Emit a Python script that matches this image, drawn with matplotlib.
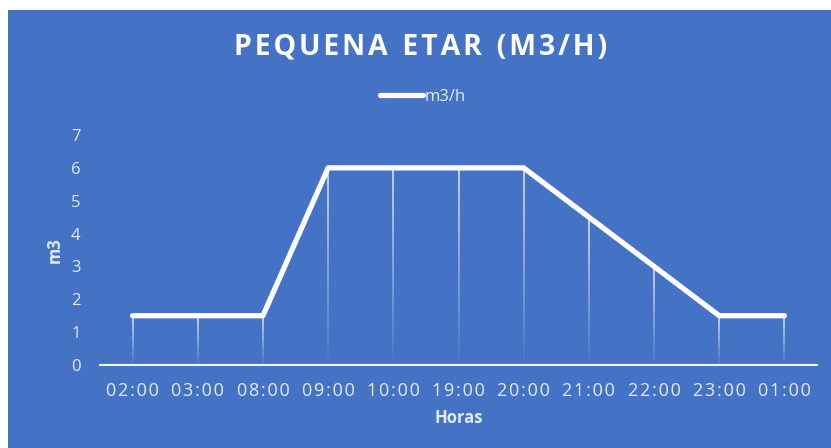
import numpy as np
import matplotlib.pyplot as plt
from matplotlib.patches import Rectangle
from matplotlib.collections import LineCollection

# --- data ---
horas = ['02:00', '03:00', '08:00', '09:00', '10:00', '19:00',
         '20:00', '21:00', '22:00', '23:00', '01:00']
caudal = [1.5, 1.5, 1.5, 6, 6, 6, 6, 4.5, 3, 1.5, 1.5]
titulo = 'PEQUENA ETAR (M3/H)'

BLUE = '#4472C4'
TXT = '#E4EAF6'


def spaced(s, gap='\u200a', wgap='   '):
    # imitate the wide letter spacing of the original
    return wgap.join(gap.join(w) for w in s.split(' '))


fig = plt.figure(figsize=(8.31, 4.48), dpi=100)
fig.patch.set_facecolor('white')
# blue chart area (small white margin left/top like the screenshot)
fig.patches.append(Rectangle((8 / 831, 0), 1, 438 / 448, transform=fig.transFigure,
                             facecolor=BLUE, edgecolor='none', zorder=-10))

ax = fig.add_axes([100 / 831, 83 / 448, 717 / 831, 230 / 448])
ax.set_facecolor('none')

x = np.arange(len(horas))

# drop lines with fading gradient
segs, cols = [], []
n = 40
for xi, yi in zip(x, caudal):
    ys = np.linspace(yi, 0, n + 1)
    for k in range(n):
        segs.append([(xi, ys[k]), (xi, ys[k + 1])])
        cols.append((1, 1, 1, 0.85 * (1 - k / n) + 0.02))
ax.add_collection(LineCollection(segs, colors=cols, linewidths=1.1, zorder=2))

ax.plot(x, caudal, color='white', lw=3.8, solid_capstyle='round',
        solid_joinstyle='round', label='m3/h', zorder=3)

ax.set_xlim(-0.5, len(horas) - 0.5)
ax.set_ylim(0, 7)
ax.set_yticks(range(0, 8))
ax.set_xticks(x)
ax.set_xticklabels([spaced(h) for h in horas])

for s in ['top', 'right', 'left']:
    ax.spines[s].set_visible(False)
ax.spines['bottom'].set_color('white')
ax.spines['bottom'].set_linewidth(1.5)
ax.tick_params(axis='both', length=0, colors=TXT)
ax.tick_params(axis='x', labelsize=13, pad=12)
ax.tick_params(axis='y', labelsize=12, pad=14)
for lab in ax.get_xticklabels() + ax.get_yticklabels():
    lab.set_fontfamily('Open Sans')

ax.set_xlabel('Horas', color=TXT, fontsize=12, fontweight='bold', labelpad=7,
              fontfamily='Open Sans')
ax.set_ylabel('m3', color=TXT, fontsize=12, fontweight='bold', labelpad=5,
              fontfamily='Open Sans')

fig.text(0.506, 0.895, spaced(titulo, '\u200a', '  '),
         ha='center', va='center', color='white', fontsize=20.5, fontweight='bold',
         fontfamily='Open Sans')

leg = ax.legend(loc='center', bbox_to_anchor=(0.45, 1.165), frameon=False,
                handlelength=2.6, handletextpad=0.1, fontsize=12)
for t in leg.get_texts():
    t.set_color(TXT)
    t.set_fontfamily('Open Sans')

fig.savefig('out.png', dpi=100, facecolor=fig.get_facecolor())
